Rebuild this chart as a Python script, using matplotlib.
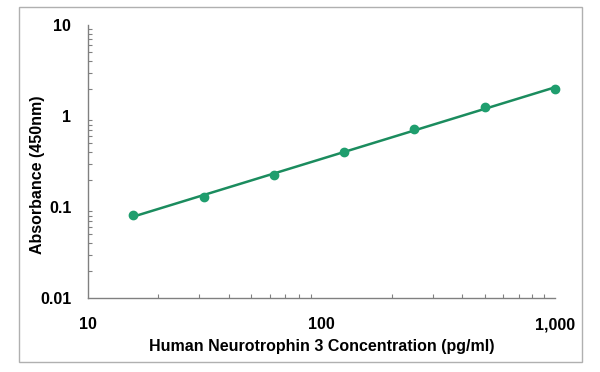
import matplotlib
matplotlib.use("Agg")
import matplotlib.pyplot as plt
import numpy as np
from matplotlib.patches import Rectangle
from matplotlib.ticker import FixedLocator, LogLocator, NullFormatter

# Standard curve data
concentration = [15.6, 31.25, 62.5, 125, 250, 500, 1000]
absorbance = [0.082, 0.129, 0.225, 0.40, 0.72, 1.26, 1.98]

x_ticks = [10, 100, 1000]
x_tick_labels = ["10", "100", "1,000"]
y_ticks = [0.01, 0.1, 1, 10]
y_tick_labels = ["0.01", "0.1", "1", "10"]

plt.rcParams["font.family"] = ["Liberation Sans", "DejaVu Sans"]

fig = plt.figure(figsize=(6, 3.72), dpi=100)
ax = fig.add_axes([88 / 600, 1 - 298 / 372, (555 - 88) / 600, (298 - 25) / 372])

# outer frame
fig.patches.append(
    Rectangle((19 / 600, 1 - 362 / 372), (582 - 19) / 600, (362 - 7) / 372,
              transform=fig.transFigure, fill=False,
              edgecolor="#b0b0b0", linewidth=1.0)
)

# power trend line fitted on log scale
coef = np.polyfit(np.log10(concentration), np.log10(absorbance), 1)
fit_x = np.array([concentration[0], concentration[-1]])
fit_y = 10 ** np.polyval(coef, np.log10(fit_x))
ax.plot(fit_x, fit_y, color="#1b8c5e", linewidth=1.8, zorder=2)

ax.plot(concentration, absorbance, "o", color="#1f9e6e",
        markersize=6, zorder=3, clip_on=False)

ax.set_xscale("log")
ax.set_yscale("log")
ax.set_xlim(10, 1000)
ax.set_ylim(0.01, 10)

ax.xaxis.set_major_locator(FixedLocator(x_ticks))
ax.set_xticklabels(x_tick_labels)
ax.yaxis.set_major_locator(FixedLocator(y_ticks))
ax.set_yticklabels(y_tick_labels)
ax.xaxis.set_minor_locator(LogLocator(base=10, subs=np.arange(2, 10)))
ax.yaxis.set_minor_locator(LogLocator(base=10, subs=np.arange(2, 10)))
ax.xaxis.set_minor_formatter(NullFormatter())
ax.yaxis.set_minor_formatter(NullFormatter())

for side in ["top", "right"]:
    ax.spines[side].set_visible(False)
for side in ["left", "bottom"]:
    ax.spines[side].set_color("#808080")
    ax.spines[side].set_linewidth(1.0)

ax.tick_params(axis="both", which="major", direction="in", length=0,
               labelsize=11.5, colors="#808080", labelcolor="black")
ax.tick_params(axis="y", which="major", pad=12)
ax.tick_params(axis="x", which="major", pad=14)
ax.tick_params(axis="both", which="minor", direction="in", length=3,
               width=0.8, colors="#808080")

for label in ax.get_xticklabels() + ax.get_yticklabels():
    label.set_fontweight("bold")

ax.set_xlabel("Human Neurotrophin 3 Concentration (pg/ml)",
              fontsize=11.5, fontweight="bold", labelpad=5)
ax.set_ylabel("Absorbance (450nm)", fontsize=11.5, fontweight="bold")
ax.yaxis.set_label_coords(-0.092, 0.45)

fig.savefig("out.png", dpi=100)
